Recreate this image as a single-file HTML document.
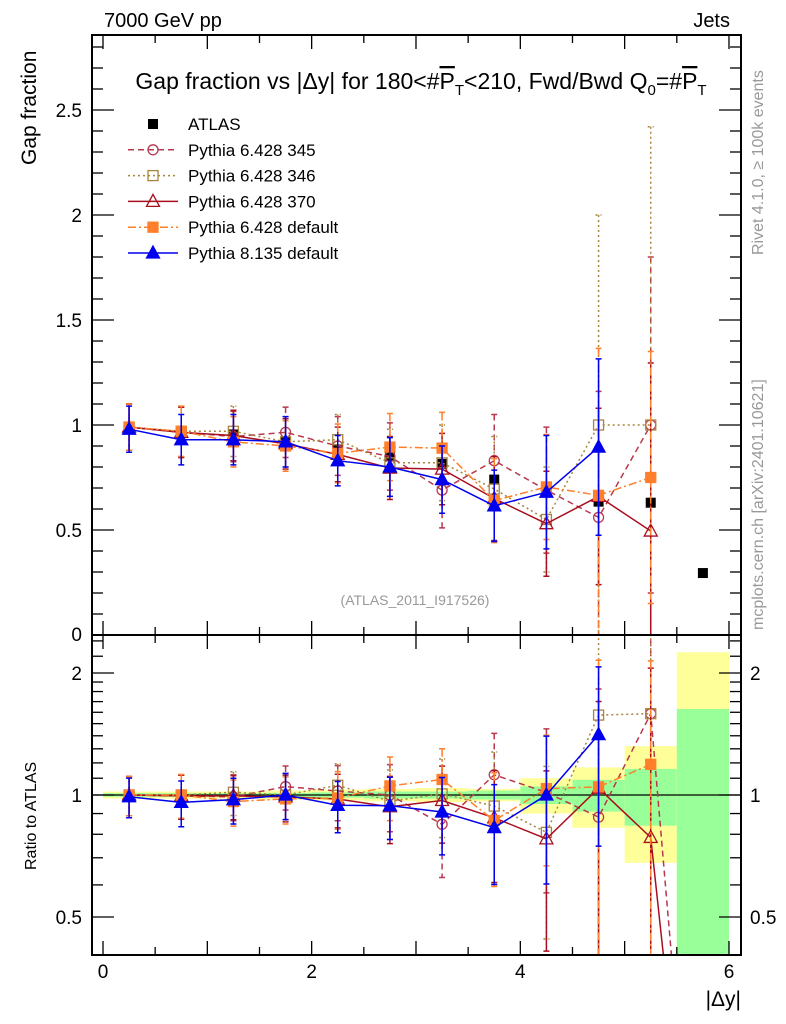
<!DOCTYPE html>
<html><head><meta charset="utf-8"><style>
html,body{margin:0;padding:0;background:#fff;overflow:hidden;width:786px;height:1024px;}
svg{display:block;font-family:"Liberation Sans",sans-serif;}
</style></head><body>
<svg id="c" width="786" height="1024" viewBox="0 0 786 1024" xmlns="http://www.w3.org/2000/svg">
<defs>
<clipPath id="cm"><rect x="92" y="35" width="649" height="600"/></clipPath>
<clipPath id="cr"><rect x="92" y="635" width="649" height="320"/></clipPath>
</defs>
<g id="bands" clip-path="url(#cr)"></g>
<g id="marks"></g>
<rect x="92" y="35" width="649" height="600" fill="none" stroke="#000" stroke-width="2"/>
<rect x="92" y="635" width="649" height="320" fill="none" stroke="#000" stroke-width="2"/>
<g id="axes"></g>
<text x="104" y="27" font-size="20">7000 GeV pp</text>
<text x="730" y="27" font-size="20" text-anchor="end">Jets</text>
<text x="421" y="89" font-size="23" text-anchor="middle">Gap fraction vs |Δy| for 180&lt;#<tspan text-decoration="overline">P</tspan><tspan font-size="15" dy="6">T</tspan><tspan dy="-6">&lt;210, Fwd/Bwd Q</tspan><tspan font-size="15" dy="6">0</tspan><tspan dy="-6">=#</tspan><tspan text-decoration="overline">P</tspan><tspan font-size="15" dy="6">T</tspan></text>
<text transform="translate(36,165) rotate(-90)" font-size="21">Gap fraction</text>
<text transform="translate(36,870) rotate(-90)" font-size="16">Ratio to ATLAS</text>
<text x="741" y="1006" font-size="21" text-anchor="end">|Δy|</text>
<text transform="translate(763,255) rotate(-90)" font-size="16" fill="#999">Rivet 4.1.0, ≥ 100k events</text>
<text transform="translate(763,630) rotate(-90)" font-size="16" fill="#999">mcplots.cern.ch [arXiv:2401.10621]</text>
<text x="415" y="605" font-size="14" fill="#999" text-anchor="middle">(ATLAS_2011_I917526)</text>
<g id="legend"></g>
</svg>
<script>
const xCenters=[0.25,0.75,1.25,1.75,2.25,2.75,3.25,3.75,4.25,4.75,5.25,5.75];
const atlasVals=[0.99,0.97,0.955,0.92,0.88,0.85,0.815,0.74,0.68,0.635,0.63,0.295];
const atlasTotRel=[0.02,0.02,0.02,0.025,0.03,0.035,0.04,0.035,0.1,0.17,0.32,1.25];
const atlasStatRel=[0.01,0.01,0.01,0.012,0.015,0.02,0.02,0.025,0.05,0.09,0.16,0.63];
const p345Vals=[0.99,0.965,0.945,0.965,0.90,0.85,0.69,0.83,0.69,0.56,1.0,0];
const p345Errs=[0.11,0.12,0.12,0.12,0.14,0.16,0.18,0.22,0.3,0.6,0.8,0];
const p346Vals=[0.99,0.97,0.97,0.92,0.93,0.82,0.82,0.695,0.55,1.0,1.0,0];
const p346Errs=[0.11,0.12,0.12,0.12,0.12,0.16,0.18,0.25,0.25,1.0,1.42,0];
const p370Vals=[0.99,0.965,0.95,0.91,0.86,0.795,0.79,0.65,0.53,0.66,0.495,0];
const p370Errs=[0.11,0.12,0.12,0.12,0.13,0.15,0.17,0.2,0.25,0.42,0.8,0];
const p6defVals=[0.99,0.97,0.92,0.90,0.865,0.895,0.89,0.64,0.705,0.665,0.75,0];
const p6defErrs=[0.11,0.12,0.12,0.12,0.14,0.16,0.17,0.2,0.25,0.7,0.6,0];
const p8Vals=[0.98,0.93,0.93,0.92,0.83,0.80,0.74,0.615,0.68,0.895,0,0];
const p8Errs=[0.11,0.12,0.12,0.12,0.12,0.14,0.16,0.17,0.27,0.42,0,0];
const xTicks=[0,2,4,6];
const yTicks=[0.5,1,1.5,2,2.5];
const rTicks=[0.5,1,2];

const NS="http://www.w3.org/2000/svg";
const X=v=>103+v*104.33;
const Y=v=>635-v*210;
const R=r=>795-122*Math.log2(Math.max(r,0.05));
function mk(tag,attrs,parent){const e=document.createElementNS(NS,tag);for(const k in attrs)e.setAttribute(k,attrs[k]);parent.appendChild(e);return e;}
const marks=document.getElementById('marks'),axes=document.getElementById('axes'),bands=document.getElementById('bands'),legend=document.getElementById('legend');

xCenters.forEach((c,i)=>{
  const x0=X(c-0.25),w=X(c+0.25)-x0;
  const ty=R(1+atlasTotRel[i]),by=R(1-atlasTotRel[i]);
  let b=mk('rect',{x:x0,y:ty,width:w,height:by-ty,fill:'#ffff99'},bands);
  
  
  const sy=R(1+atlasStatRel[i]),sb=R(1-atlasStatRel[i]);
  let g=mk('rect',{x:x0,y:sy,width:w,height:sb-sy,fill:'#99ff99'},bands);
  
  
});
let l1=mk('line',{x1:92,x2:741,y1:R(1),y2:R(1),stroke:'#000','stroke-width':1.3},marks);



function marker(p,x,y,shape,color,fill){
  if(shape==='circle')return mk('circle',{cx:x,cy:y,r:5,fill:fill?color:'none',stroke:color,'stroke-width':1.3},p);
  if(shape==='square')return mk('rect',{x:x-5,y:y-5,width:10,height:10,fill:fill?color:'none',stroke:color,'stroke-width':1.3},p);
  return mk('path',{d:`M${x},${y-7}L${x+6.5},${y+5}L${x-6.5},${y+5}Z`,fill:fill?color:'none',stroke:color,'stroke-width':1.3},p);
}
const series=[
 {name:'pythia-6428-345',label:'Pythia 6.428 345',vals:p345Vals,errs:p345Errs,color:'#b8384e',dash:'6,4',shape:'circle',fill:false},
 {name:'pythia-6428-346',label:'Pythia 6.428 346',vals:p346Vals,errs:p346Errs,color:'#a8843c',dash:'2,3',shape:'square',fill:false},
 {name:'pythia-6428-370',label:'Pythia 6.428 370',vals:p370Vals,errs:p370Errs,color:'#a80f1e',dash:'',shape:'tri',fill:false},
 {name:'pythia-6428-default',label:'Pythia 6.428 default',vals:p6defVals,errs:p6defErrs,color:'#ff7f2a',dash:'8,3,2,3',shape:'square',fill:true},
 {name:'pythia-8135-default',label:'Pythia 8.135 default',vals:p8Vals,errs:p8Errs,color:'#0000ee',dash:'',shape:'tri',fill:true}
];
const ga=mk('g',{'clip-path':'url(#cm)'},marks);


xCenters.forEach((c,i)=>{
  let m=mk('rect',{x:X(c)-5,y:Y(atlasVals[i])-5,width:10,height:10,fill:'#000'},ga);
  
  
});
series.forEach(s=>{
  const gm=mk('g',{'clip-path':'url(#cm)'},marks);
  
  
  const gr=mk('g',{'clip-path':'url(#cr)'},marks);
  
  
  let pm=[],pr=[];
  xCenters.forEach((c,i)=>{
    const v=s.vals[i];
    const r=v/atlasVals[i];
    if(v>0) pr.push(X(c)+','+R(r));
    else if(i===xCenters.length-1 && s.vals[i-1]>0 && s.shape!=='square') pr.push(X(c)+','+R(0.05));
    if(v<=0)return;
    pm.push(X(c)+','+Y(v));
    const e=s.errs[i];
    let eb=mk('path',{d:`M${X(c)},${Y(v+e)}V${Y(Math.max(v-e,0))}M${X(c)-3},${Y(v+e)}h6M${X(c)-3},${Y(Math.max(v-e,0))}h6`,stroke:s.color,'stroke-width':1.5,'stroke-dasharray':s.dash,fill:'none'},gm);
    
    
    const ru=(v+e)/atlasVals[i],rl=(v-e)/atlasVals[i];
    let er=mk('path',{d:`M${X(c)},${R(ru)}V${R(rl)}M${X(c)-3},${R(ru)}h6M${X(c)-3},${R(rl)}h6`,stroke:s.color,'stroke-width':1.5,'stroke-dasharray':s.dash,fill:'none'},gr);
    
    
  });
  let lm=mk('polyline',{points:pm.join(' '),fill:'none',stroke:s.color,'stroke-width':1.5,'stroke-dasharray':s.dash},gm);
  
  
  let lr=mk('polyline',{points:pr.join(' '),fill:'none',stroke:s.color,'stroke-width':1.5,'stroke-dasharray':s.dash},gr);
  
  
  xCenters.forEach((c,i)=>{
    const v=s.vals[i]; if(v<=0)return;
    let m=marker(gm,X(c),Y(v),s.shape,s.color,s.fill);
    
    
    let mr=marker(gr,X(c),R(v/atlasVals[i]),s.shape,s.color,s.fill);
    
    
  });
});
for(let k=0;k<=12;k++){const v=k*0.5,x=X(v),L=(k%2===0)?14:8;
  mk('line',{x1:x,x2:x,y1:35,y2:35+L,stroke:'#000','stroke-width':1.3},axes);
  mk('line',{x1:x,x2:x,y1:635,y2:635-L,stroke:'#000','stroke-width':1.3},axes);
  mk('line',{x1:x,x2:x,y1:635,y2:635+L,stroke:'#000','stroke-width':1.3},axes);
  mk('line',{x1:x,x2:x,y1:955,y2:955-L,stroke:'#000','stroke-width':1.3},axes);}
xTicks.forEach(t=>{let e=mk('text',{x:X(t),y:978,'font-size':19,'text-anchor':'middle'},axes);e.textContent=t;
  
  });
for(let k=0;k<=28;k++){const y=Y(k*0.1),L=(k%5===0)?22:11;
  mk('line',{x1:92,x2:92+L,y1:y,y2:y,stroke:'#000','stroke-width':1.3},axes);
  mk('line',{x1:741,x2:741-L,y1:y,y2:y,stroke:'#000','stroke-width':1.3},axes);}
yTicks.forEach(t=>{let e=mk('text',{x:82,y:Y(t)+7,'font-size':19,'text-anchor':'end'},axes);e.textContent=t;
  
  });
let z=mk('text',{x:82,y:641,'font-size':19,'text-anchor':'end'},axes);z.textContent='0';


[0.5,0.6,0.7,0.8,0.9,1,1.1,1.2,1.3,1.4,1.5,1.6,1.7,1.8,1.9,2,2.2,2.4].forEach(r=>{const y=R(r),L=(r===0.5||r===1||r===2)?22:11;
  mk('line',{x1:92,x2:92+L,y1:y,y2:y,stroke:'#000','stroke-width':1.3},axes);
  mk('line',{x1:741,x2:741-L,y1:y,y2:y,stroke:'#000','stroke-width':1.3},axes);});
rTicks.forEach(t=>{let e=mk('text',{x:82,y:R(t)+7,'font-size':19,'text-anchor':'end'},axes);e.textContent=t;
  
  
  let e2=mk('text',{x:750,y:R(t)+7,'font-size':19},axes);e2.textContent=t;
  
  });
const lg=[{label:'ATLAS',color:'#000',dash:null,shape:'square',fill:true}].concat(series);
lg.forEach((s,i)=>{const y=124+i*25.8;
  const g=mk('g',{},legend);
  
  
  if(s.dash!==null)mk('line',{x1:128,x2:178,y1:y,y2:y,stroke:s.color,'stroke-width':1.5,'stroke-dasharray':s.dash},g);
  if(s.dash===null)mk('rect',{x:148,y:y-5,width:10,height:10,fill:'#000'},g);
  else marker(g,153,y,s.shape,s.color,s.fill);
  const t=mk('text',{x:188,y:y+6,'font-size':17},g);t.textContent=s.label;});
</script>
</body></html>
